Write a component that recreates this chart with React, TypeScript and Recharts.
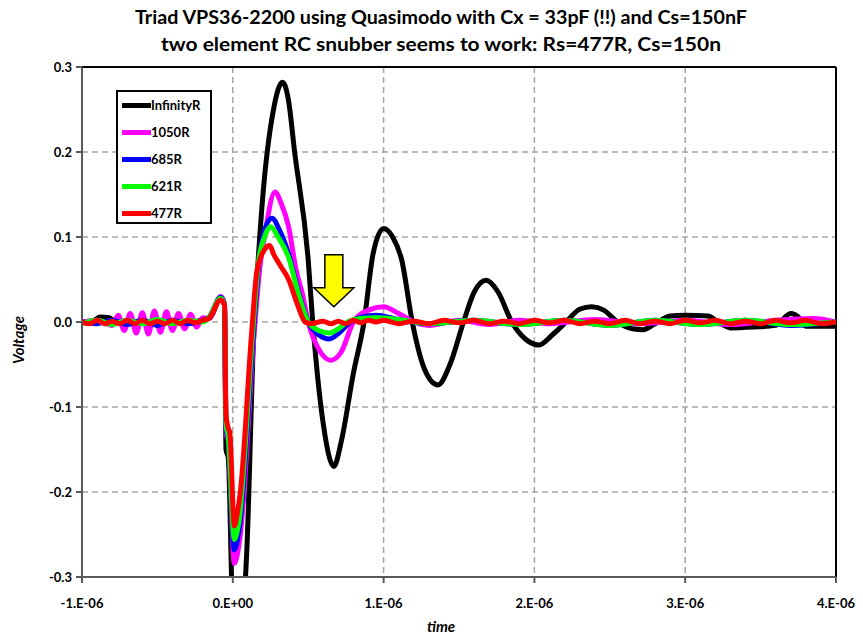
import { LineChart, Line, XAxis, YAxis, CartesianGrid, ReferenceLine, ReferenceDot } from "recharts";

// time in microseconds, voltage in volts
const infinityR: [number, number][] = [
  [-1.0, 0.0], [-0.92, 0.002], [-0.88, 0.006], [-0.82, 0.005], [-0.78, 0.0], [-0.7, -0.002],
  [-0.6, 0.001], [-0.5, -0.001], [-0.4, 0.002], [-0.3, 0.0], [-0.2, 0.002], [-0.15, 0.005],
  [-0.08, 0.028], [-0.055, 0.02], [-0.045, -0.15], [-0.03, -0.16], [0.0, -0.33], [0.07, -0.33],
  [0.09, -0.28], [0.14, -0.01], [0.16, 0.05], [0.2, 0.15], [0.27, 0.25], [0.33, 0.282],
  [0.37, 0.26], [0.41, 0.2], [0.5, 0.073], [0.53, 0.0], [0.6, -0.12], [0.67, -0.17],
  [0.72, -0.14], [0.8, -0.06], [0.87, 0.0], [0.93, 0.08], [1.0, 0.11], [1.06, 0.1],
  [1.12, 0.073], [1.19, 0.0], [1.27, -0.055], [1.36, -0.074], [1.44, -0.05], [1.53, 0.0],
  [1.6, 0.035], [1.68, 0.049], [1.76, 0.035], [1.85, 0.0], [1.94, -0.02], [2.03, -0.027],
  [2.12, -0.015], [2.21, 0.0], [2.3, 0.015], [2.38, 0.018], [2.46, 0.014], [2.55, 0.0],
  [2.65, -0.008], [2.72, -0.009], [2.8, -0.002], [2.9, 0.007], [3.0, 0.008], [3.15, 0.007],
  [3.22, 0.0], [3.3, -0.007], [3.45, -0.006], [3.6, -0.004], [3.7, 0.01], [3.75, 0.006],
  [3.8, -0.005], [4.0, -0.005],
];

const r1050: [number, number][] = [
  [-1.0, 0.0], [-0.9, 0.002], [-0.8, -0.004], [-0.76, 0.008], [-0.72, -0.01], [-0.68, 0.01],
  [-0.64, -0.013], [-0.6, 0.011], [-0.56, -0.014], [-0.52, 0.013], [-0.48, -0.012], [-0.44, 0.012],
  [-0.4, -0.01], [-0.36, 0.01], [-0.32, -0.008], [-0.28, 0.009], [-0.24, -0.006], [-0.2, 0.005],
  [-0.16, 0.004], [-0.08, 0.03], [-0.055, 0.022], [-0.045, -0.13], [-0.03, -0.14], [0.01, -0.284],
  [0.05, -0.25], [0.145, -0.005], [0.18, 0.065], [0.21, 0.1], [0.28, 0.153], [0.32, 0.14],
  [0.37, 0.112], [0.42, 0.061], [0.46, 0.034], [0.5, 0.0], [0.58, -0.035], [0.65, -0.045],
  [0.72, -0.035], [0.8, 0.0], [0.9, 0.014], [1.0, 0.018], [1.1, 0.01], [1.2, 0.0],
  [1.3, -0.004], [1.5, 0.002], [1.7, -0.003], [1.9, 0.002], [2.1, -0.002], [2.4, 0.003],
  [2.7, -0.002], [3.0, 0.002], [3.3, -0.003], [3.6, 0.002], [3.85, 0.004], [4.0, 0.0],
];

const r685: [number, number][] = [
  [-1.0, 0.0], [-0.9, -0.002], [-0.8, 0.002], [-0.7, -0.003], [-0.6, 0.002], [-0.5, -0.004],
  [-0.4, 0.002], [-0.3, -0.002], [-0.2, 0.002], [-0.16, 0.005], [-0.08, 0.029], [-0.055, 0.02],
  [-0.045, -0.125], [-0.03, -0.138], [0.01, -0.268], [0.045, -0.24], [0.14, -0.005], [0.175, 0.075],
  [0.21, 0.108], [0.26, 0.122], [0.31, 0.108], [0.37, 0.08], [0.44, 0.032], [0.5, 0.0],
  [0.57, -0.015], [0.64, -0.02], [0.71, -0.012], [0.78, 0.0], [0.86, 0.006], [0.95, 0.008],
  [1.1, 0.003], [1.3, -0.002], [1.6, 0.002], [1.9, -0.003], [2.2, 0.002], [2.5, -0.004],
  [2.8, 0.002], [3.1, -0.003], [3.4, 0.002], [3.7, -0.004], [4.0, 0.0],
];

const r621: [number, number][] = [
  [-1.0, -0.002], [-0.9, 0.002], [-0.8, -0.003], [-0.7, 0.002], [-0.6, -0.002], [-0.5, 0.003],
  [-0.4, -0.002], [-0.3, 0.002], [-0.2, 0.0], [-0.16, 0.005], [-0.08, 0.028], [-0.055, 0.02],
  [-0.045, -0.12], [-0.03, -0.135], [0.01, -0.256], [0.04, -0.235], [0.135, -0.005], [0.17, 0.07],
  [0.21, 0.1], [0.25, 0.112], [0.3, 0.1], [0.37, 0.076], [0.44, 0.03], [0.5, 0.0],
  [0.57, -0.01], [0.64, -0.013], [0.7, -0.008], [0.76, 0.0], [0.85, 0.004], [0.95, 0.005],
  [1.1, 0.003], [1.3, -0.002], [1.6, 0.002], [1.9, -0.003], [2.2, 0.002], [2.5, -0.004],
  [2.8, 0.002], [3.1, -0.003], [3.4, 0.002], [3.7, -0.003], [4.0, 0.0],
];

const r477: [number, number][] = [
  [-1.0, 0.0], [-0.95, -0.002], [-0.9, 0.002], [-0.85, -0.002], [-0.8, 0.001], [-0.75, -0.002],
  [-0.7, 0.002], [-0.65, -0.002], [-0.6, 0.002], [-0.55, -0.002], [-0.5, 0.001], [-0.45, -0.002],
  [-0.4, 0.002], [-0.35, -0.002], [-0.3, 0.002], [-0.25, -0.001], [-0.2, 0.002], [-0.16, 0.004],
  [-0.08, 0.026], [-0.055, 0.02], [-0.045, -0.11], [-0.03, -0.125], [-0.02, -0.13], [0.01, -0.24],
  [0.03, -0.225], [0.05, -0.2], [0.126, -0.01], [0.16, 0.06], [0.21, 0.085], [0.245, 0.09],
  [0.27, 0.08], [0.32, 0.065], [0.37, 0.05], [0.43, 0.02], [0.48, 0.0], [0.52, -0.002],
  [0.6, 0.001], [0.65, -0.002], [0.7, 0.001], [0.75, -0.002], [0.8, 0.002], [0.85, -0.001],
  [0.9, 0.002], [0.95, 0.0], [1.0, 0.002], [1.1, -0.002], [1.2, 0.001], [1.3, -0.002],
  [1.4, 0.002], [1.5, -0.001], [1.6, 0.002], [1.7, -0.002], [1.8, 0.001], [1.9, -0.002],
  [2.0, 0.002], [2.1, -0.001], [2.2, 0.002], [2.3, -0.002], [2.4, 0.001], [2.5, -0.002],
  [2.6, 0.002], [2.7, -0.002], [2.8, 0.001], [2.9, -0.002], [3.0, 0.002], [3.1, -0.001],
  [3.2, 0.002], [3.3, -0.002], [3.4, 0.001], [3.5, -0.002], [3.6, 0.002], [3.7, -0.001],
  [3.8, 0.002], [3.9, -0.002], [4.0, 0.0],
];

const series = [
  { name: "InfinityR", color: "#000000", points: infinityR },
  { name: "1050R", color: "#ff00ff", points: r1050 },
  { name: "685R", color: "#0000ff", points: r685 },
  { name: "621R", color: "#00ff00", points: r621 },
  { name: "477R", color: "#ff0000", points: r477 },
];

const xTicks = [-1, 0, 1, 2, 3, 4];
const xTickLabels = ["-1.E-06", "0.E+00", "1.E-06", "2.E-06", "3.E-06", "4.E-06"];
const yTicks = [-0.3, -0.2, -0.1, 0, 0.1, 0.2, 0.3];

const FONT = "Lato, 'DejaVu Sans', sans-serif";
const tickStyle = { fill: "#000", fontSize: 13, fontWeight: 700, fontFamily: FONT };

function Arrow(props: any) {
  const { cx, cy } = props;
  const pts = [
    [-9, -52], [9, -52], [9, -19], [20, -19], [0, 0], [-20, -19], [-9, -19],
  ].map(([dx, dy]) => `${cx + dx},${cy + dy}`).join(" ");
  return <polygon points={pts} fill="#ffff00" stroke="#000" strokeWidth={1.5} />;
}

export default function App() {
  return (
    <div style={{ position: "absolute", left: 0, top: 0, width: 863, height: 636, background: "#fff" }}>
      <LineChart width={863} height={636} margin={{ top: 67, right: 27, left: 0, bottom: 0 }}>
        <CartesianGrid stroke="#a6a6a6" strokeDasharray="6 4" strokeWidth={1.5} />
        <XAxis
          type="number"
          dataKey="t"
          domain={[-1, 4]}
          ticks={xTicks}
          tickFormatter={(v: number) => xTickLabels[xTicks.indexOf(v)]}
          height={59}
          tick={tickStyle}
          tickSize={6}
          tickMargin={16}
          stroke="#595959"
          strokeWidth={2}
          allowDataOverflow
        />
        <YAxis
          type="number"
          domain={[-0.3, 0.3]}
          ticks={yTicks}
          tickFormatter={(v: number) => v.toFixed(1)}
          width={82}
          tick={tickStyle}
          tickSize={6}
          tickMargin={4}
          stroke="#595959"
          strokeWidth={2}
          allowDataOverflow
        />
        <ReferenceLine y={0.3} stroke="#000" strokeWidth={2} />
        <ReferenceLine x={4} stroke="#000" strokeWidth={2} />
        {series.map((s) => (
          <Line
            key={s.name}
            data={s.points.map(([t, v]) => ({ t, v }))}
            dataKey="v"
            name={s.name}
            type="monotone"
            stroke={s.color}
            strokeWidth={5}
            dot={false}
            isAnimationActive={false}
          />
        ))}
        <ReferenceDot x={0.67} y={0.018} shape={Arrow} />
      </LineChart>

      <svg width={863} height={636} style={{ position: "absolute", left: 0, top: 0, pointerEvents: "none" }}>
        <g fontFamily={FONT} fontWeight={700} fill="#000">
          <text x={441} y={24} fontSize={18} textAnchor="middle" textLength={612} lengthAdjust="spacingAndGlyphs">
            Triad VPS36-2200  using Quasimodo with Cx = 33pF (!!) and Cs=150nF
          </text>
          <text x={441} y={51} fontSize={18} textAnchor="middle" textLength={560} lengthAdjust="spacingAndGlyphs">
            two element RC snubber seems to work: Rs=477R, Cs=150n
          </text>
          <text x={441} y={632} fontSize={15} fontStyle="italic" textAnchor="middle">time</text>
          <text x={24} y={340} fontSize={15} fontStyle="italic" textAnchor="middle" transform="rotate(-90 24 340)">
            Voltage
          </text>
        </g>
      </svg>

      <div
        style={{
          position: "absolute",
          left: 116,
          top: 90,
          width: 92,
          height: 130,
          border: "2px solid #000",
          background: "#fff",
          fontFamily: FONT,
          fontWeight: 700,
          fontSize: 13,
        }}
      >
        {series.map((s, i) => (
          <div key={s.name} style={{ position: "absolute", left: 4, top: 5 + i * 27, display: "flex", alignItems: "center", height: 16 }}>
            <span style={{ display: "inline-block", width: 29, height: 5, background: s.color }} />
            <span style={{ marginLeft: 0 }}>{s.name}</span>
          </div>
        ))}
      </div>
    </div>
  );
}
